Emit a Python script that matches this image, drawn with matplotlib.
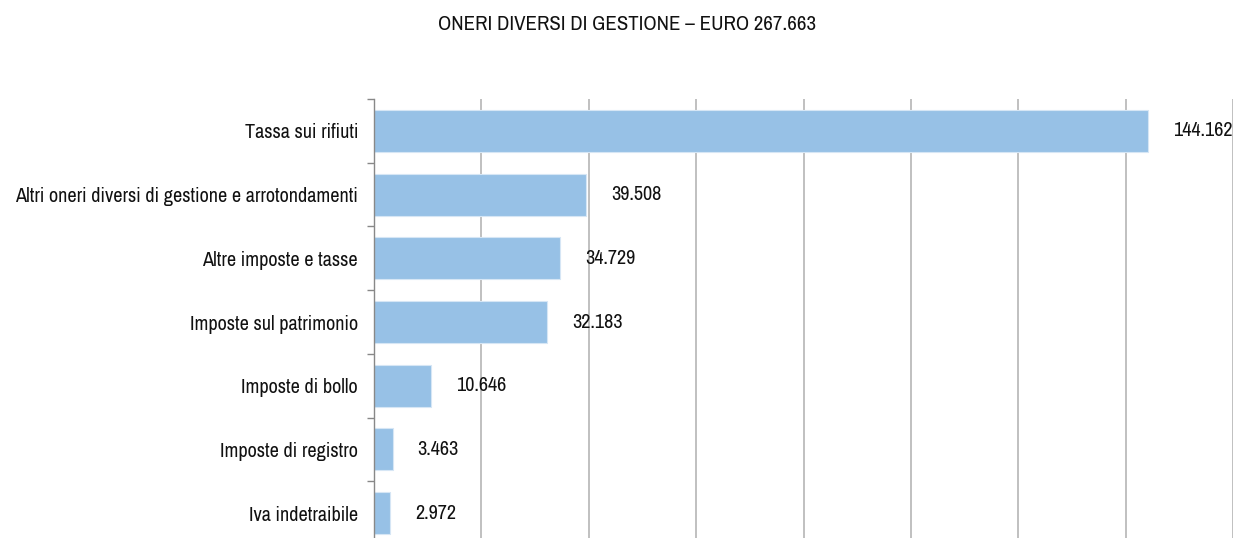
import matplotlib.pyplot as plt
from matplotlib import font_manager
from matplotlib.font_manager import FontProperties

categories = [
    "Tassa sui rifiuti",
    "Altri oneri diversi di gestione e arrotondamenti",
    "Altre imposte e tasse",
    "Imposte sul patrimonio",
    "Imposte di bollo",
    "Imposte di registro",
    "Iva indetraibile",
]
values = [144162, 39508, 34729, 32183, 10646, 3463, 2972]
value_labels = ["144.162", "39.508", "34.729", "32.183", "10.646", "3.463", "2.972"]
title = "ONERI DIVERSI DI GESTIONE \u2013 EURO 267.663"


def pick_narrow_font():
    # look for a condensed / narrow face among installed fonts
    cands = []
    for f in font_manager.fontManager.ttflist:
        tag = (f.name + " " + str(f.stretch) + " " + f.fname).lower()
        if ("condensed" in tag or "narrow" in tag) and f.weight in (400, "normal", "regular") \
                and f.style == "normal" and "semi" not in tag and "extra" not in tag:
            cands.append(f)
    if cands:
        cands.sort(key=lambda f: ("narrow" not in f.fname.lower(), f.fname))
        return FontProperties(fname=cands[0].fname)
    return FontProperties(family="DejaVu Sans")


fp = pick_narrow_font()

fig = plt.figure(figsize=(12.37, 5.38), dpi=100)
ax = fig.add_axes([374 / 1237, -7 / 538, 859 / 1237, 446 / 538])

# scale the font so the longest label spans about as wide as in the original
renderer = fig.canvas.get_renderer()
probe = fig.text(0, 0, categories[1], fontproperties=fp, fontsize=13)
w = probe.get_window_extent(renderer).width
probe.set_text(title)
wt = probe.get_window_extent(renderer).width
probe.remove()
size = min(16, 13 * 346 / w)
tsize = min(16, 13 * 377 / wt)

pos = list(range(len(categories)))
ax.barh(pos, values, height=0.66, color="#97c1e6", edgecolor="#d6e6f5", linewidth=0.8, zorder=2)

for p, v, lab in zip(pos, values, value_labels):
    ax.annotate(lab, (v, p), xytext=(18, 0), textcoords="offset points",
                va="center", ha="left", fontproperties=fp, fontsize=size, color="#111111")

ax.set_xlim(0, 160000)
ax.set_ylim(len(categories) - 0.5, -0.5)
ax.set_xticks(range(0, 160001, 20000))
ax.xaxis.grid(True, color="#b5b5b5", linewidth=1.2, zorder=0)
ax.tick_params(axis="x", length=0, labelbottom=False)

ax.set_yticks(pos)
ax.set_yticklabels(categories, fontproperties=fp, fontsize=size, color="#111111")
ax.set_yticks([p - 0.5 for p in pos] + [len(pos) - 0.5], minor=True)
ax.tick_params(axis="y", which="major", length=0, pad=11.5)
ax.tick_params(axis="y", which="minor", length=5, color="#888888", width=1)

for s in ["top", "right", "bottom"]:
    ax.spines[s].set_visible(False)
ax.spines["left"].set_color("#888888")
ax.spines["left"].set_linewidth(1)
ax.set_axisbelow(True)

fig.text(627 / 1237, 1 - 25 / 538, title, ha="center", va="center",
         fontproperties=fp, fontsize=tsize, color="#111111")

fig.savefig("out.png", dpi=100)
